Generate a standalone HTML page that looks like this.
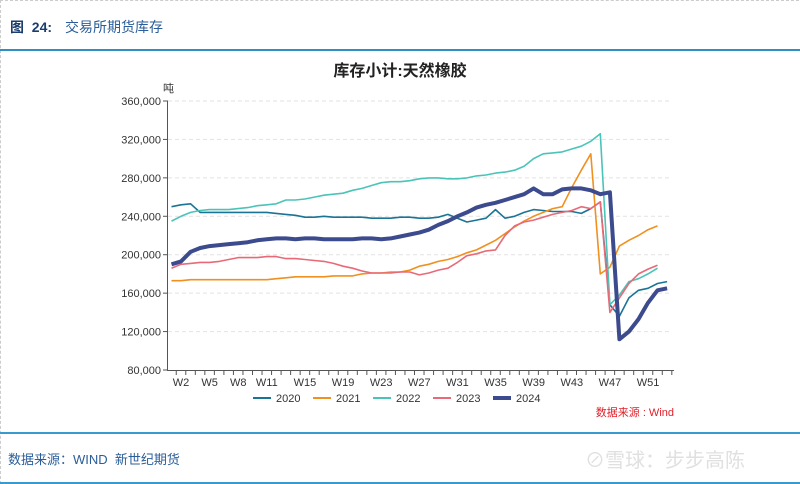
<!DOCTYPE html>
<html><head><meta charset="utf-8"><style>
body{margin:0;background:#fff;width:800px;height:484px;overflow:hidden;font-family:"Liberation Sans","Noto Sans CJK SC",sans-serif;}
#wrap{position:relative;width:800px;height:484px;}
.t{position:absolute;white-space:nowrap;}
</style></head><body>
<div id="wrap">
<div style="position:absolute;left:0;top:0;width:798px;height:482px;border:1px dashed #ccc;border-right:none;"></div>
<div class="t" style="left:10px;top:17px;font-size:14px;color:#1b3d6e;font-weight:bold;">图&nbsp;&nbsp;24:</div>
<div class="t" style="left:65px;top:17px;font-size:14px;color:#2a5d9a;">交易所期货库存</div>
<div style="position:absolute;left:0;top:49px;width:800px;height:2px;background:#2f8fbf;"></div>
<div style="position:absolute;left:0;top:432px;width:800px;height:2px;background:#3a9ad0;"></div>
<div style="position:absolute;left:0;top:482px;width:800px;height:2px;background:#3a9ad0;"></div>
<div class="t" style="left:8px;top:449px;font-size:13px;color:#2a5d9a;">数据来源：WIND&nbsp;&nbsp;新世纪期货</div>
<div class="t" style="left:585px;top:444px;font-size:20px;color:#e0e0e0;">⊘雪球：步步高陈</div>
<svg id="chart" width="800" height="484" style="position:absolute;left:0;top:0"></svg>
</div>
<script>
const weeks=[];for(let i=1;i<=53;i++)weeks.push(i);
const yTicks=[80000,120000,160000,200000,240000,280000,320000,360000];
const xLabels=[2,5,8,11,15,19,23,27,31,35,39,43,47,51];
const seriesNames=["2020","2021","2022","2023","2024"];
const s2020=[250,252,253,244,244,244,244,244,244,244,244,243,242,241,239,239,240,239,239,239,239,238,238,238,239,239,238,238,239,242,238,234,236,238,247,238,240,244,247,246,245,245,245,243,248,255,148,136,155,163,165,170,172];
const s2021=[173,173,174,174,174,174,174,174,174,174,174,175,176,177,177,177,177,178,178,178,180,181,181,182,182,184,188,190,193,195,198,202,205,210,215,222,229,235,240,244,248,250,270,288,305,180,187,209,215,220,226,230];
const s2022=[235,240,244,246,247,247,247,248,249,251,252,253,257,257,258,260,262,263,264,267,269,272,275,276,276,277,279,280,280,279,279,280,282,283,285,286,288,292,300,305,306,307,310,313,318,326,148,158,172,175,180,186];
const s2023=[186,190,191,192,192,193,195,197,197,197,198,198,196,196,195,194,193,191,188,186,183,181,181,181,182,182,179,181,184,186,192,199,201,204,205,220,230,234,236,239,242,244,246,250,248,255,140,155,170,180,185,189];
const s2024=[190,193,203,207,209,210,211,212,213,215,216,217,217,216,217,217,216,216,216,216,217,217,216,217,219,221,223,226,231,235,240,244,249,252,254,257,260,263,269,263,263,268,269,269,267,263,265,112,120,133,150,163,165];
const colors=["#1a7496","#f0901e","#4bc4b8","#e86a78","#3c4a8e"];
const widths=[1.6,1.6,1.6,1.6,4];
const NS="http://www.w3.org/2000/svg";
const svg=document.getElementById('chart');
const X=w=>171.5+(w-1)*9.53;
const Y=v=>370-(v-80000)/280000*269;
function mk(tag,attrs,parent){const e=document.createElementNS(NS,tag);for(const k in attrs)e.setAttribute(k,attrs[k]);(parent||svg).appendChild(e);return e;}
let t=mk('text',{x:400,y:76,'text-anchor':'middle','font-size':16,'font-weight':'bold',fill:'#222'});t.textContent='库存小计:天然橡胶';


t=mk('text',{x:163,y:92,'font-size':11,fill:'#333'});t.textContent='吨';


yTicks.forEach(v=>{const y=Y(v);
 if(v>80000){const g=mk('line',{x1:168,x2:672,y1:y,y2:y,stroke:'#e2e2e2','stroke-dasharray':'4,3'});
 
 }
 mk('line',{x1:163,x2:168,y1:y,y2:y,stroke:'#555'});
 const l=mk('text',{x:161,y:y+4,'text-anchor':'end','font-size':11,fill:'#333'});l.textContent=v.toLocaleString('en-US');
 
 });
let ax=mk('line',{x1:167.5,x2:167.5,y1:Y(360000),y2:370,stroke:'#555'});


ax=mk('line',{x1:167,x2:674,y1:370.5,y2:370.5,stroke:'#555'});


weeks.forEach(w=>{const x=X(w)+4.75;mk('line',{x1:x,x2:x,y1:370,y2:375,stroke:'#555'});});
xLabels.forEach(w=>{const l=mk('text',{x:X(w),y:386,'text-anchor':'middle','font-size':11,fill:'#333'});l.textContent='W'+w;
 
 });
[s2020,s2021,s2022,s2023,s2024].forEach((s,i)=>{
 const pts=s.map((v,j)=>X(weeks[j]).toFixed(1)+','+Y(v*1000).toFixed(1)).join(' ');
 const p=mk('polyline',{points:pts,fill:'none',stroke:colors[i],'stroke-width':widths[i],'stroke-linejoin':'round'});
 
 
 const lx=253+i*60;
 const g=mk('g',{});
 
 
 mk('line',{x1:lx,x2:lx+18,y1:398,y2:398,stroke:colors[i],'stroke-width':i==4?4:2},g);
 const lt=mk('text',{x:lx+23,y:402,'font-size':11,fill:'#333'},g);lt.textContent=seriesNames[i];
});
t=mk('text',{x:674,y:416,'text-anchor':'end','font-size':11,fill:'#e0202a'});t.textContent='数据来源 : Wind';


</script>
</body></html>
